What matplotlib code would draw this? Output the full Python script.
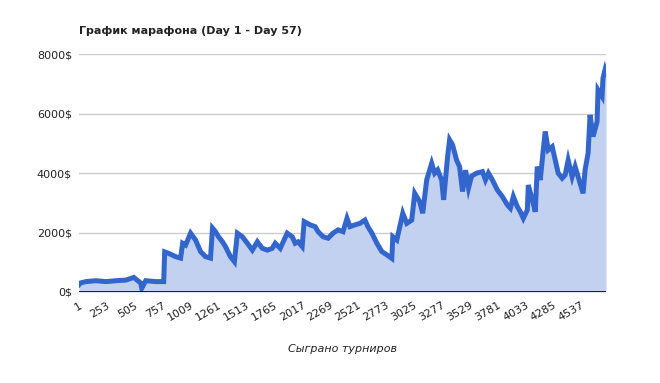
import matplotlib
matplotlib.use("Agg")
import matplotlib.pyplot as plt

# tournaments played vs. bankroll ($)
tournaments = [
    1, 10, 64, 154, 244, 334, 424, 496, 559, 568, 604, 694, 766, 775, 811, 874,
    919, 937, 964, 1009, 1054, 1099, 1144, 1189, 1207, 1234, 1261, 1297, 1324,
    1369, 1405, 1432, 1477, 1522, 1567, 1612, 1657, 1702, 1747, 1774, 1819,
    1882, 1927, 1954, 1981, 2017, 2035, 2089, 2134, 2161, 2206, 2251, 2296,
    2341, 2386, 2422, 2449, 2494, 2539, 2584, 2611, 2647, 2692, 2737, 2782,
    2827, 2836, 2872, 2899, 2926, 2962, 3007, 3034, 3079, 3106, 3142, 3187,
    3214, 3241, 3277, 3295, 3331, 3349, 3376, 3412, 3439, 3466, 3493, 3520,
    3547, 3592, 3646, 3673, 3700, 3736, 3781, 3826, 3871, 3898, 3925, 3961,
    3988, 4015, 4051, 4060, 4096, 4123, 4141, 4168, 4195, 4213, 4240, 4276,
    4303, 4330, 4366, 4393, 4420, 4456, 4483, 4528, 4555, 4573, 4600, 4618,
    4645, 4681, 4690, 4726, 4735, 4753, 4762,
]
bankroll = [
    250, 300, 350, 380, 350, 380, 400, 490, 300, 130, 380, 350, 350, 1350, 1300,
    1190, 1140, 1640, 1580, 1980, 1750, 1360, 1190, 1140, 2150, 2030, 1860,
    1690, 1530, 1190, 1020, 1980, 1860, 1640, 1410, 1690, 1470, 1410, 1470,
    1640, 1470, 1980, 1860, 1640, 1690, 1530, 2370, 2260, 2200, 2030, 1860,
    1810, 1980, 2090, 2030, 2480, 2200, 2260, 2310, 2420, 2200, 1980, 1640,
    1360, 1250, 1130, 1860, 1750, 2200, 2650, 2310, 2420, 3320, 3040, 2650,
    3770, 4330, 4000, 4110, 3770, 3100, 4560, 5120, 4950, 4440, 4220, 3380,
    4100, 3500, 3900, 4000, 4050, 3770, 4000, 3770, 3430, 3210, 2930, 2820,
    3210, 2870, 2700, 2480, 2760, 3600, 3100, 2700, 4220, 3770, 4780, 5400,
    4780, 4890, 4440, 4000, 3830, 3940, 4440, 3880, 4220, 3660, 3320, 4110,
    4670, 5960, 5230, 5730, 6800, 6580, 7200, 7470, 7360,
]
xticks = list(range(1, 4538, 252))
yticks = [0, 2000, 4000, 6000, 8000]

line_color = "#3366cc"
fill_color = "#c2d1f0"
text_color = "#222222"

fig = plt.figure(figsize=(6.6, 3.83), dpi=100)
ax = fig.add_axes([0.1197, 0.2376, 0.7985, 0.6206])

ax.fill_between(tournaments, bankroll, 0, color=fill_color, lw=0, zorder=1)
ax.plot(tournaments, bankroll, color=line_color, lw=3.6, solid_joinstyle="miter",
        zorder=3)

ax.set_xlim(1, 4762)
ax.set_ylim(0, 8000)
ax.set_yticks(yticks)
ax.set_yticklabels(["{}$".format(v) for v in yticks])
ax.set_xticks(xticks)
ax.set_xticklabels([str(v) for v in xticks], rotation=30, ha="right",
                   rotation_mode="anchor")
ax.tick_params(length=0, labelsize=8, colors=text_color)
ax.tick_params(axis="y", pad=5)
ax.tick_params(axis="x", pad=6)

ax.grid(axis="y", color="#cccccc", lw=1)
ax.set_axisbelow(True)
for s in ax.spines.values():
    s.set_visible(False)
ax.axhline(0, color="black", lw=1.2, zorder=4)

fig.text(0.12, 0.91, "График марафона (Day 1 - Day 57)", fontsize=8,
         fontweight="bold", color=text_color, ha="left", va="baseline")
ax.set_xlabel("Сыграно турниров", fontsize=8, style="italic", color=text_color,
              labelpad=15)

fig.savefig("out.png", dpi=100)
